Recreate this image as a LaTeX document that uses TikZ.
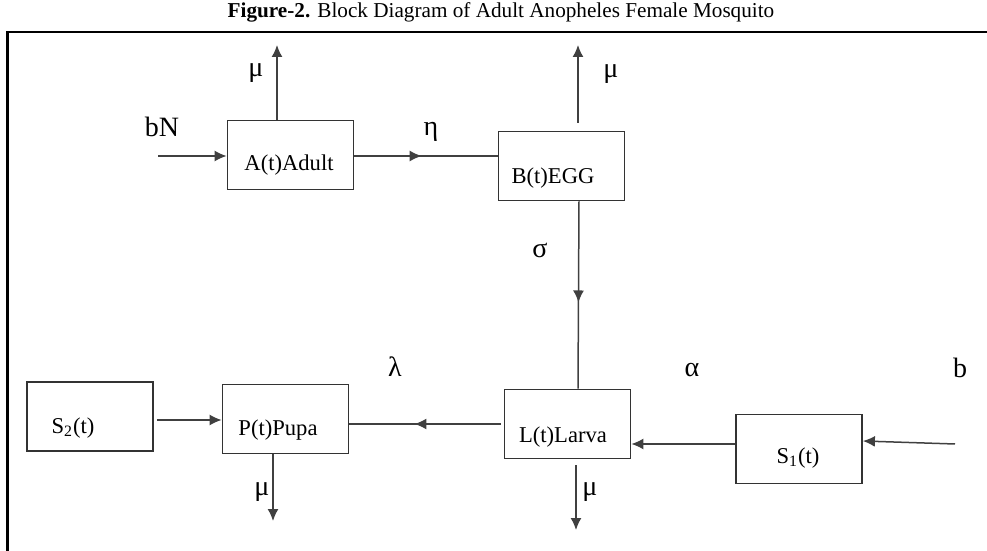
\documentclass[tikz,border=0pt]{standalone}
\usepackage{fontspec}
\setmainfont{Liberation Serif}
\usetikzlibrary{arrows.meta,decorations.markings}

\begin{document}
\begin{tikzpicture}[x=0.5pt,y=0.5pt,yscale=-1,xscale=1,
  blk/.style={draw=black!80,line width=0.9pt,minimum width=63pt,minimum height=34.5pt,inner sep=0pt},
  lbl/.style={inner sep=0pt,font=\fontsize{11.3}{13}\selectfont},
  sym/.style={inner sep=0pt,font=\fontsize{14}{16}\selectfont},
  ln/.style={draw=black!75,line width=0.75pt},
  arr/.style={ln,-{Latex[length=6pt,width=5.5pt]}},
  midarr/.style={ln,postaction={decorate},decoration={markings,mark=at position #1 with {\arrow{Latex[length=6pt,width=5.5pt]}}}}]
\useasboundingbox (0,0) rectangle (987,551);

% Title
\node[font=\fontsize{10.6}{12}\selectfont] (title) at (501,12) {\textbf{Figure-2.} Block Diagram of Adult Anopheles Female Mosquito};

%Frame
\coordinate (frTL) at (7.5,32);
\coordinate (frTR) at (987,32);
\coordinate (frBL) at (7.5,551);
\draw[line width=1.2pt] (frTR) -- (frTL) -- (frBL);

%Shape: Rectangle
\node[blk] (adult) at (290.5,155) {};
%Shape: Rectangle
\node[blk] (egg) at (561.5,166) {};
%Shape: Rectangle
\node[blk] (larva) at (567.5,424) {};
%Shape: Rectangle
\node[blk] (sone) at (799,449) {};
%Shape: Rectangle
\node[blk] (pupa) at (285.5,419) {};
%Shape: Rectangle
\node[blk] (stwo) at (90,416.5) {};

% Text Node
\node[lbl] (adulttxt) at (289,165) {A(t)Adult};
% Text Node
\node[lbl] (eggtxt) at (553,178) {B(t)EGG};
% Text Node
\node[lbl] (larvatxt) at (563,437) {L(t)Larva};
% Text Node
\node[lbl] (sonetxt) at (798,458) {S\textsubscript{1}(t)};
% Text Node
\node[lbl] (pupatxt) at (278,430) {P(t)Pupa};
% Text Node
\node[lbl] (stwotxt) at (73,428) {S\textsubscript{2}(t)};

% Text Node
\node[sym] (bN) at (162,127) {bN};
% Text Node
\node[sym] (muA) at (256,73) {μ};
% Text Node
\node[sym] (eta) at (431,132) {η};
% Text Node
\node[sym] (muB) at (611,74) {μ};
% Text Node
\node[sym] (sigma) at (540,250) {σ};
% Text Node
\node[sym] (lambda) at (395,367) {λ};
% Text Node
\node[sym] (alpha) at (692,370) {α};
% Text Node
\node[sym] (b) at (960,368) {b};
% Text Node
\node[sym] (muL) at (590,492) {μ};
% Text Node
\node[sym] (muP) at (262,492) {μ};

%Straight Lines
\coordinate (bNin) at (158,156);
\draw[arr] (bNin) -- (bNin -| adult.west);
%Straight Lines
\coordinate (muAtip) at (277,45);
\draw[arr] (adult.north -| muAtip) -- (muAtip);
%Straight Lines
\draw[midarr=0.47] (adult.east |- bNin) -- (egg.west |- bNin);
%Straight Lines
\coordinate (muBtip) at (578,45);
\draw[arr] ([yshift=-4pt]egg.north -| muBtip) -- (muBtip);
%Straight Lines
\draw[midarr=0.54] ([xshift=8.75pt]egg.south) -- ([xshift=5.25pt]larva.north);
%Straight Lines
\coordinate (muLtip) at (576,530);
\draw[arr] ([yshift=3pt]larva.south -| muLtip) -- (muLtip);
%Straight Lines
\draw[arr] ([yshift=-2.5pt]sone.west) -- ([yshift=-2.5pt]sone.west -| larva.east);
%Straight Lines
\coordinate (bin) at (955,444);
\draw[arr] (bin) -- ([yshift=-4pt]sone.east);
%Straight Lines
\draw[midarr=0.57] ([xshift=-1.5pt]larva.west) -- (larva.west -| pupa.east);
%Straight Lines
\draw[arr] ([xshift=1.5pt,yshift=1.75pt]stwo.east) -- ([yshift=1.75pt]stwo.east -| pupa.west);
%Straight Lines
\coordinate (muPtip) at (273,521);
\draw[arr] (pupa.south -| muPtip) -- (muPtip);

\end{tikzpicture}
\end{document}
